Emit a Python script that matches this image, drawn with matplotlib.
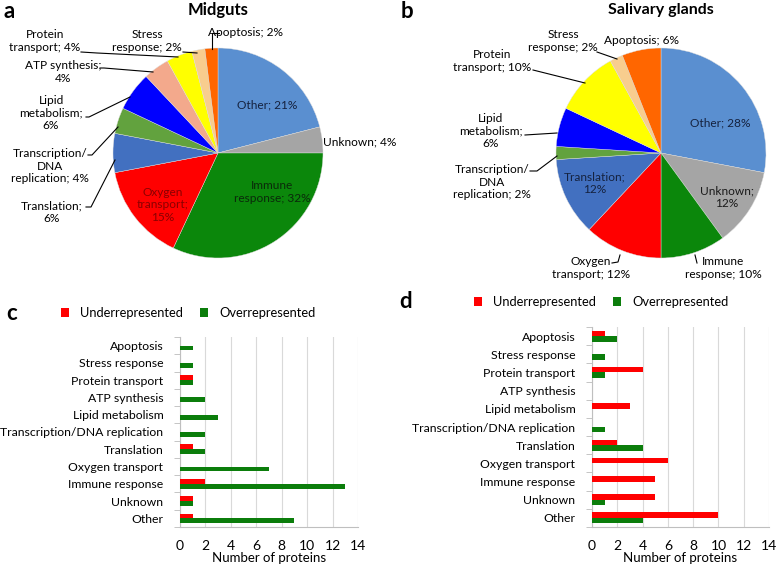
import matplotlib
matplotlib.use("Agg")
import matplotlib.pyplot as plt
from matplotlib.lines import Line2D

# ---------------- data ----------------
pie_categories = ["Other", "Unknown", "Immune response", "Oxygen transport", "Translation",
                  "Transcription/DNA replication", "Lipid metabolism", "ATP synthesis",
                  "Protein transport", "Stress response", "Apoptosis"]
midgut_pct = [21, 4, 32, 15, 6, 4, 6, 4, 4, 2, 2]
salivary_pct = [28, 12, 10, 12, 12, 2, 6, 0, 10, 2, 6]
pie_colors = ["#5a8fd0", "#a5a5a5", "#0b870b", "#ff0000", "#4270c0", "#62a23e",
              "#0000ff", "#f3a98c", "#ffff00", "#f8cd8e", "#ff6600"]

bar_categories = ["Apoptosis", "Stress response", "Protein transport", "ATP synthesis",
                  "Lipid metabolism", "Transcription/DNA replication", "Translation",
                  "Oxygen transport", "Immune response", "Unknown", "Other"]
midgut_under = [0, 0, 1, 0, 0, 0, 1, 0, 2, 1, 1]
midgut_over = [1, 1, 1, 2, 3, 2, 2, 7, 13, 1, 9]
salivary_under = [1, 0, 4, 0, 3, 0, 2, 6, 5, 5, 10]
salivary_over = [2, 1, 1, 0, 0, 1, 4, 0, 0, 1, 4]
x_ticks = [0, 2, 4, 6, 8, 10, 12, 14]

# ---------------- layout helpers ----------------
W, H = 778, 566
plt.rcParams["font.family"] = ["Lato", "DejaVu Sans"]
fig = plt.figure(figsize=(W / 100, H / 100), dpi=100)
fig.patch.set_facecolor("white")


def fx(x):
    return x / W


def fy(y):
    return 1 - y / H


def leader(points, **kw):
    xs = [fx(p[0]) for p in points]
    ys = [fy(p[1]) for p in points]
    fig.add_artist(Line2D(xs, ys, transform=fig.transFigure, color="black", lw=0.8, **kw))


def draw_pie(cx, cy, r, values):
    ax = fig.add_axes([fx(cx - r), fy(cy + r), 2 * r / W, 2 * r / H])
    vals = [v for v in values if v > 0]
    cols = [c for v, c in zip(values, pie_colors) if v > 0]
    ax.pie(vals, colors=cols, startangle=90, counterclock=False,
           wedgeprops=dict(linewidth=0.3, edgecolor="#dddddd"))
    ax.set_xlim(-1, 1)
    ax.set_ylim(-1, 1)
    ax.set_aspect("auto")
    return ax


PIE_FS = 8.6

# ---------------- panel a ----------------
draw_pie(218, 153, 105, midgut_pct)
fig.text(fx(4), fy(12), "a", fontsize=16, fontweight="bold", ha="left", va="center")
fig.text(fx(218), fy(10), "Midguts", fontsize=12, fontweight="bold", ha="center", va="center")

labels_a = [
    ("Other; 21%", 267, 105, "#15223f", None),
    ("Unknown; 4%", 360, 142, "black", None),
    ("Immune\nresponse; 32%", 272, 192, "#0a2a0a", None),
    ("Oxygen\ntransport;\n15%", 163, 205, "#8a0000", None),
    ("Translation;\n6%", 52, 212, "black", [(86, 207), (91, 207), (115, 160)]),
    ("Transcription/\nDNA\nreplication; 4%", 50, 166, "black", [(88, 155), (92, 155), (118, 127)]),
    ("Lipid\nmetabolism;\n6%", 51, 113, "black", [(86, 117), (89, 117), (130, 97)]),
    ("ATP synthesis;\n4%", 63, 72, "black", [(100, 68), (104, 68), (153, 72)]),
    ("Protein\ntransport; 4%", 45, 41, "black", [(81, 52), (97, 53), (178, 57)]),
    ("Stress\nresponse; 2%", 147, 41, "black", [(183, 52), (197, 53)]),
    ("Apoptosis; 2%", 245, 33, "black", [(219, 33), (212, 33), (212, 49)]),
]
for txt, x, y, col, pts in labels_a:
    fig.text(fx(x), fy(y), txt, fontsize=PIE_FS, ha="center", va="center",
             multialignment="center", color=col, linespacing=1.2)
    if pts:
        leader(pts)

# ---------------- panel b ----------------
draw_pie(661, 153, 105, salivary_pct)
fig.text(fx(401), fy(12), "b", fontsize=16, fontweight="bold", ha="left", va="center")
fig.text(fx(661), fy(10), "Salivary glands", fontsize=11.5, fontweight="bold", ha="center", va="center")

labels_b = [
    ("Other; 28%", 720, 123, "#15223f", None),
    ("Unknown;\n12%", 727, 197, "#1a1a1a", None),
    ("Immune\nresponse; 10%", 723, 268, "black", [(697, 263), (695, 255)]),
    ("Oxygen\ntransport; 12%", 591, 268, "black", [(612, 263), (618, 262), (620, 255)]),
    ("Translation;\n12%", 595, 183, "#15223f", None),
    ("Transcription/\nDNA\nreplication; 2%", 492, 182, "black", [(530, 171), (537, 171), (557, 156)]),
    ("Lipid\nmetabolism;\n6%", 491, 131, "black", [(525, 135), (557, 133)]),
    ("Protein\ntransport; 10%", 492, 61, "black", [(533, 70), (585, 83)]),
    ("Stress\nresponse; 2%", 563, 41, "black", [(597, 52), (617, 59)]),
    ("Apoptosis; 6%", 641, 40, "black", None),
]
for txt, x, y, col, pts in labels_b:
    fig.text(fx(x), fy(y), txt, fontsize=PIE_FS, ha="center", va="center",
             multialignment="center", color=col, linespacing=1.2)
    if pts:
        leader(pts)


# ---------------- bar panels ----------------
def draw_bars(left, right, top, bottom, under, over, bar_h, letter, letter_xy, legend_xy):
    ax = fig.add_axes([fx(left), fy(bottom), (right - left) / W, (bottom - top) / H])
    n = len(bar_categories)
    ys = list(range(n))
    ax.barh([y - bar_h / 2 for y in ys], under, height=bar_h, color="#ff0000",
            label="Underrepresented", zorder=3)
    ax.barh([y + bar_h / 2 for y in ys], over, height=bar_h, color="#0b7d0b",
            label="Overrepresented", zorder=3)
    ax.set_ylim(n - 0.5, -0.5)
    ax.set_xlim(0, 14)
    ax.set_xticks(x_ticks)
    ax.set_yticks(ys)
    ax.set_yticklabels(bar_categories)
    ax.set_yticks([y + 0.5 for y in range(-1, n)], minor=True)
    ax.tick_params(axis="y", which="major", length=0, pad=12, labelsize=8.8)
    ax.tick_params(axis="y", which="minor", length=4, color="#bbbbbb", direction="out")
    ax.tick_params(axis="x", length=0, labelsize=10, pad=9)
    ax.xaxis.grid(True, color="#d9d9d9", lw=0.8, zorder=0)
    for s in ["top", "right"]:
        ax.spines[s].set_visible(False)
    for s in ["left", "bottom"]:
        ax.spines[s].set_color("#bfbfbf")
        ax.spines[s].set_linewidth(0.8)
    ax.set_xlabel("Number of proteins", fontsize=9.5, labelpad=0)
    fig.text(fx(letter_xy[0]), fy(letter_xy[1]), letter, fontsize=16, fontweight="bold",
             ha="left", va="center")
    ax.legend(loc="center left", bbox_to_anchor=(fx(legend_xy[0]), fy(legend_xy[1])),
              bbox_transform=fig.transFigure, ncol=2, frameon=False, fontsize=9.3,
              handlelength=0.6, handleheight=0.6, handletextpad=0.9, columnspacing=1.3,
              borderpad=0, borderaxespad=0)
    return ax


draw_bars(180, 358, 337, 527, midgut_under, midgut_over, 0.28, "c", (6, 313), (61, 313))
draw_bars(592, 769, 327, 527, salivary_under, salivary_over, 0.3, "d", (399, 302), (474, 302))

fig.savefig("out.png", dpi=100)
